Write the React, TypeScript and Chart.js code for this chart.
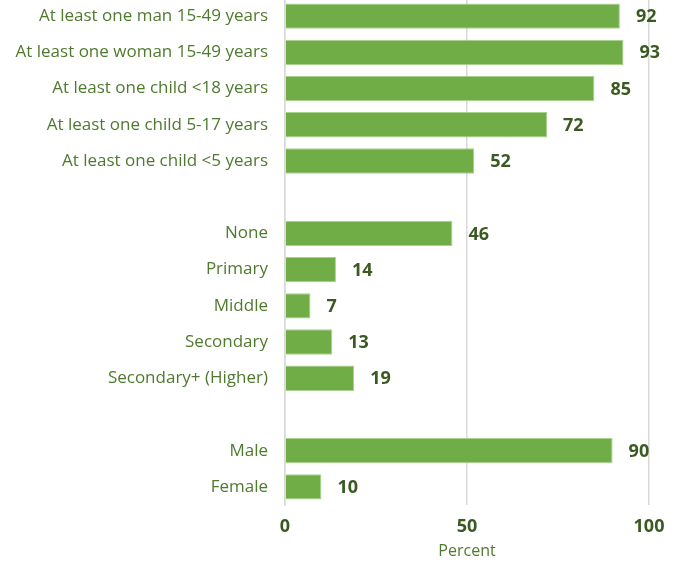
import React, { useEffect, useRef } from "react";
import { Chart, registerables } from "chart.js";

Chart.register(...registerables);

const categories: string[] = [
  "At least one man 15-49 years",
  "At least one woman 15-49 years",
  "At least one child <18 years",
  "At least one child 5-17 years",
  "At least one child <5 years",
  "",
  "None",
  "Primary",
  "Middle",
  "Secondary",
  "Secondary+ (Higher)",
  "",
  "Male",
  "Female",
];

const values: (number | null)[] = [92, 93, 85, 72, 52, null, 46, 14, 7, 13, 19, null, 90, 10];

const xTicks: number[] = [0, 50, 100];
const axisTitle = "Percent";

const FONT = "'Open Sans', sans-serif";
const BAR = "#70AD47";
const LABEL = "#4F7A2E";
const VALUE = "#3A5A22";

const valueLabels = {
  id: "valueLabels",
  afterDatasetsDraw(chart: any) {
    const ctx = chart.ctx;
    const meta = chart.getDatasetMeta(0);
    ctx.save();
    ctx.font = `bold 18px ${FONT}`;
    ctx.fillStyle = VALUE;
    ctx.textAlign = "left";
    ctx.textBaseline = "middle";
    meta.data.forEach((el: any, i: number) => {
      const v = values[i];
      if (v === null || v === undefined) return;
      ctx.fillText(String(v), el.x + 16, el.y + 1);
    });
    ctx.restore();
  },
};

export default function App() {
  const ref = useRef<HTMLCanvasElement | null>(null);
  useEffect(() => {
    if (!ref.current) return;
    const chart = new Chart(ref.current, {
      type: "bar",
      data: {
        labels: categories,
        datasets: [
          {
            data: values,
            backgroundColor: BAR,
            borderColor: "#A9D18E",
            borderWidth: 1,
            barPercentage: 0.7,
            categoryPercentage: 1,
          },
        ],
      },
      options: {
        indexAxis: "y",
        animation: false,
        responsive: true,
        maintainAspectRatio: false,
        layout: { padding: { top: 0, right: 35, bottom: 4, left: 0 } },
        plugins: { legend: { display: false }, tooltip: { enabled: false } },
        scales: {
          x: {
            min: 0,
            max: 100,
            afterBuildTicks: (s: any) => {
              s.ticks = xTicks.map((v) => ({ value: v }));
            },
            afterFit: (s: any) => {
              s.height = 56;
            },
            grid: { color: "#D9D9D9", lineWidth: 1.5, drawTicks: false },
            border: { display: false },
            ticks: {
              padding: 11,
              color: VALUE,
              font: { family: FONT, size: 18, weight: "bold" },
            },
            title: {
              display: true,
              text: axisTitle,
              color: LABEL,
              font: { family: FONT, size: 16 },
              padding: { top: 0, bottom: 0 },
            },
          },
          y: {
            afterFit: (s: any) => {
              s.width = 285;
              s.paddingTop = 0;
              s.paddingBottom = 0;
            },
            grid: { display: false, drawTicks: false },
            border: { display: true, color: "#D9D9D9", width: 1.5 },
            ticks: {
              padding: 17,
              color: LABEL,
              autoSkip: false,
              font: { family: FONT, size: 17 },
            },
          },
        },
      },
      plugins: [valueLabels],
    });
    return () => chart.destroy();
  }, []);
  return (
    <div style={{ position: "absolute", left: 0, top: -2, width: 684, height: 567 }}>
      <canvas ref={ref} />
    </div>
  );
}
